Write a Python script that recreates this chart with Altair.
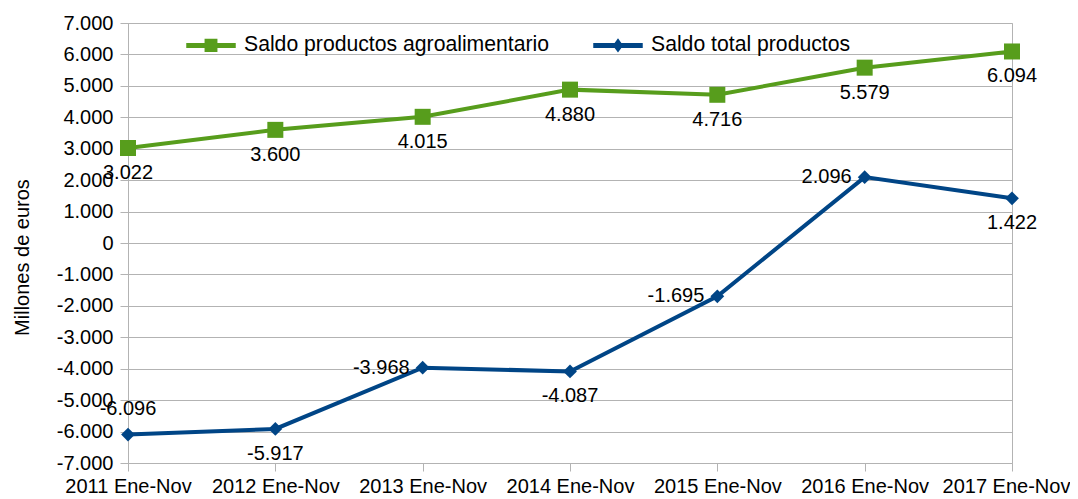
import altair as alt
import pandas as pd

categories = ["2011 Ene-Nov", "2012 Ene-Nov", "2013 Ene-Nov", "2014 Ene-Nov",
              "2015 Ene-Nov", "2016 Ene-Nov", "2017 Ene-Nov"]
agro = [3022, 3600, 4015, 4880, 4716, 5579, 6094]
total = [-6096, -5917, -3968, -4087, -1695, 2096, 1422]
series_names = ["Saldo productos agroalimentario", "Saldo total productos"]
y_ticks = list(range(-7000, 7001, 1000))

# which side of each point its value label sits on
agro_label_side = ["below", "below", "below", "below", "below", "below", "below"]
total_label_side = ["above", "below", "left", "below", "left", "left", "below"]

colors = ["#579d1c", "#004586"]
FONT = "Liberation Sans"
GRID = "#b3b3b3"


def fmt(v):
    s = f"{abs(v):,}".replace(",", ".")
    return ("-" if v < 0 else "") + s


rows = []
for i, c in enumerate(categories):
    rows.append(dict(cat=c, serie=series_names[0], valor=agro[i],
                     etiqueta=fmt(agro[i]), lado=agro_label_side[i]))
    rows.append(dict(cat=c, serie=series_names[1], valor=total[i],
                     etiqueta=fmt(total[i]), lado=total_label_side[i]))
df = pd.DataFrame(rows)

# legend symbols: a short line with the series marker on it
green_sym = ("M-1,-0.1L1,-0.1L1,0.1L-1,0.1Z"
             "M-0.26,-0.27L0.26,-0.27L0.26,0.27L-0.26,0.27Z")
blue_sym = ("M-1,-0.1L1,-0.1L1,0.1L-1,0.1Z"
            "M0,-0.29L0.21,0L0,0.29L-0.21,0Z")

x_enc = alt.X(
    "cat:N", sort=categories,
    scale=alt.Scale(type="point", padding=0),
    axis=alt.Axis(title=None, labelAngle=0, grid=False, domain=False,
                  ticks=True, tickSize=8, tickColor=GRID,
                  labelFont=FONT, labelFontSize=20, labelColor="#000000",
                  labelPadding=5,
                  labelOffset={"condition": {"test": f"datum.value == '{categories[-1]}'",
                                             "value": -6}, "value": 0}),
)
y_enc = alt.Y(
    "valor:Q",
    scale=alt.Scale(domain=[-7000, 7000], nice=False, zero=False),
    axis=alt.Axis(title="Millones de euros", values=y_ticks, grid=True,
                  gridColor=GRID, domainColor=GRID, tickColor=GRID, tickSize=8,
                  labelFont=FONT, labelFontSize=20, labelColor="#000000",
                  labelPadding=7,
                  labelExpr="(datum.value < 0 ? '-' : '') + replace(format(abs(datum.value), ','), ',', '.')",
                  titleFont=FONT, titleFontSize=20, titleFontWeight="normal",
                  titleColor="#000000", titlePadding=24, titleY=234),
)


def make_legend():
    return alt.Legend(
        orient="none", legendX=58, legendY=-3, direction="horizontal",
        title=None, labelFont=FONT, labelFontSize=21.2, labelColor="#000000",
        labelLimit=0, symbolSize=2450, columnPadding=43, labelOffset=8,
        padding=0, symbolStrokeWidth=0, symbolOpacity=1)


base = alt.Chart(df)
is_agro = f"datum.serie == '{series_names[0]}'"
is_total = f"datum.serie == '{series_names[1]}'"

line_agro = base.mark_line(strokeWidth=4, color=colors[0]).encode(
    x=x_enc, y=y_enc).transform_filter(is_agro)
line_total = base.mark_line(strokeWidth=4, color=colors[1]).encode(
    x=x_enc, y=y_enc).transform_filter(is_total)

pts_agro = base.mark_point(filled=True, opacity=1, shape="square", size=256,
                           color=colors[0]).encode(
    x=x_enc, y=y_enc).transform_filter(is_agro)
pts_total = base.mark_point(filled=True, opacity=1, shape="diamond", size=190,
                            color=colors[1]).encode(
    x=x_enc, y=y_enc).transform_filter(is_total)

legend_layer = base.mark_point(filled=True, opacity=0, strokeWidth=0).encode(
    x=x_enc, y=y_enc,
    color=alt.Color("serie:N", scale=alt.Scale(domain=series_names, range=colors),
                    legend=make_legend()),
    shape=alt.Shape("serie:N", scale=alt.Scale(domain=series_names,
                                               range=[green_sym, blue_sym]),
                    legend=make_legend()),
)

txt_kw = dict(font=FONT, fontSize=20, color="#000000", baseline="middle")
t_below = base.mark_text(dy=25, align="center", **txt_kw).encode(
    x=x_enc, y=y_enc, text="etiqueta:N").transform_filter("datum.lado == 'below'")
t_above = base.mark_text(dy=-26, align="center", **txt_kw).encode(
    x=x_enc, y=y_enc, text="etiqueta:N").transform_filter("datum.lado == 'above'")
t_left = base.mark_text(dx=-13, align="right", **txt_kw).encode(
    x=x_enc, y=y_enc, text="etiqueta:N").transform_filter("datum.lado == 'left'")

chart = alt.layer(line_agro, line_total, pts_agro, pts_total, legend_layer,
                  t_below, t_above, t_left).properties(
    width=884, height=440,
    padding={"left": 120, "top": 15, "right": 58, "bottom": 36},
    autosize=alt.AutoSizeParams(type="none"),
).configure_view(stroke=GRID)

chart.save("out.html", embed_options={"renderer": "svg", "actions": False})
